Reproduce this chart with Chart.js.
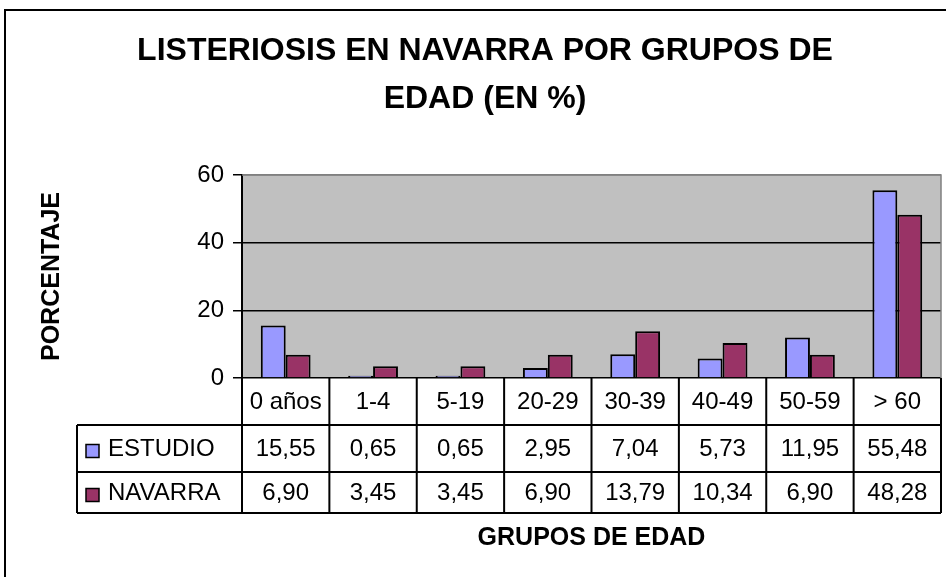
<!DOCTYPE html>
<html>
<head>
<meta charset="utf-8">
<script src="https://cdn.jsdelivr.net/npm/chart.js@4/dist/chart.umd.min.js"></script>
<style>
  html, body { margin: 0; padding: 0; background: #fff; }
</style>
</head>
<body>
<canvas id="grafico" width="946" height="577"></canvas>
<script>
// Datos por grupo de edad (porcentajes)
const gruposEdad = ['0 años', '1-4', '5-19', '20-29', '30-39', '40-49', '50-59', '> 60'];
const estudio = [15.55, 0.65, 0.65, 2.95, 7.04, 5.73, 11.95, 55.48];
const navarra = [6.90, 3.45, 3.45, 6.90, 13.79, 10.34, 6.90, 48.28];
const nombresSeries = ['ESTUDIO', 'NAVARRA'];
const coloresSeries = ['#9999FF', '#993366'];
const ticksY = [0, 20, 40, 60];

const FUENTE = "'Liberation Sans', Arial, sans-serif";

// formato con coma decimal
const fmt = v => v.toFixed(2).replace('.', ',');

// Fondo gris del area, marco exterior, tabla de datos y titulos de ejes
const tablaDatos = {
  id: 'tablaDatos',
  beforeDraw(chart) {
    const ctx = chart.ctx;
    const a = chart.chartArea;
    ctx.save();
    ctx.fillStyle = '#C0C0C0';
    ctx.fillRect(a.left, a.top, a.right - a.left, a.bottom - a.top);
    ctx.strokeStyle = '#000';
    ctx.lineWidth = 2;
    ctx.beginPath();
    ctx.moveTo(5, 600);
    ctx.lineTo(5, 10);
    ctx.lineTo(960, 10);
    ctx.stroke();
    ctx.restore();
  },
  afterDraw(chart) {
    const ctx = chart.ctx;
    const a = chart.chartArea;
    const x = chart.scales.x;
    const n = gruposEdad.length;
    const ancho = (a.right - a.left) / n;
    const izq = 77;
    const y0 = a.bottom, y1 = y0 + 47, y2 = y1 + 47, y3 = y2 + 41;

    ctx.save();
    // borde gris superior y derecho del area
    ctx.strokeStyle = '#808080';
    ctx.lineWidth = 1.5;
    ctx.beginPath();
    ctx.moveTo(a.left, a.top);
    ctx.lineTo(a.right, a.top);
    ctx.lineTo(a.right, a.bottom);
    ctx.stroke();

    // lineas de la tabla
    ctx.strokeStyle = '#000';
    ctx.lineWidth = 2;
    ctx.beginPath();
    for (let i = 0; i <= n; i++) {
      const xl = a.left + i * ancho;
      ctx.moveTo(xl, y0);
      ctx.lineTo(xl, y3);
    }
    ctx.moveTo(izq, y1); ctx.lineTo(a.right, y1);
    ctx.moveTo(izq, y2); ctx.lineTo(a.right, y2);
    ctx.moveTo(izq, y3); ctx.lineTo(a.right, y3);
    ctx.moveTo(izq, y1); ctx.lineTo(izq, y3);
    ctx.stroke();

    // textos de la tabla
    ctx.fillStyle = '#000';
    ctx.font = '24px ' + FUENTE;
    ctx.textAlign = 'center';
    ctx.textBaseline = 'middle';
    const series = [estudio, navarra];
    const filas = [[y1, y2], [y2, y3]];
    gruposEdad.forEach((g, i) => {
      const cx = x.getPixelForValue(i);
      ctx.fillText(g, cx, (y0 + y1) / 2 + 1);
      series.forEach((s, k) => {
        ctx.fillText(fmt(s[i]), cx, (filas[k][0] + filas[k][1]) / 2 + 1);
      });
    });

    // leyenda dentro de la tabla
    ctx.textAlign = 'left';
    nombresSeries.forEach((nombre, k) => {
      const cy = (filas[k][0] + filas[k][1]) / 2 + 3;
      ctx.fillStyle = coloresSeries[k];
      ctx.fillRect(86, cy - 7, 13, 13);
      ctx.lineWidth = 1.5;
      ctx.strokeStyle = '#000';
      ctx.strokeRect(86, cy - 7, 13, 13);
      ctx.fillStyle = '#000';
      ctx.fillText(nombre, 108, cy - 2);
    });

    // titulos de ejes
    ctx.font = 'bold 25px ' + FUENTE;
    ctx.textAlign = 'center';
    ctx.fillText('GRUPOS DE EDAD', (a.left + a.right) / 2, 538);
    ctx.translate(52, (a.top + a.bottom) / 2);
    ctx.rotate(-Math.PI / 2);
    ctx.fillText('PORCENTAJE', 0, 0);
    ctx.restore();
  }
};

new Chart(document.getElementById('grafico'), {
  type: 'bar',
  data: {
    labels: gruposEdad,
    datasets: [
      { label: nombresSeries[0], data: estudio, backgroundColor: coloresSeries[0] },
      { label: nombresSeries[1], data: navarra, backgroundColor: coloresSeries[1] }
    ]
  },
  options: {
    responsive: false,
    devicePixelRatio: 1,
    animation: false,
    layout: { padding: { left: 29, right: 5, top: 0, bottom: 199 } },
    datasets: {
      bar: {
        borderColor: '#000',
        borderWidth: 2,
        categoryPercentage: 0.57,
        barPercentage: 1.0
      }
    },
    plugins: {
      legend: { display: false },
      tooltip: { enabled: false },
      title: {
        display: true,
        text: ['LISTERIOSIS EN NAVARRA POR GRUPOS DE', 'EDAD (EN %)'],
        color: '#000',
        font: { family: FUENTE, size: 32, weight: 'bold', lineHeight: '48px' },
        padding: { top: 27, bottom: 52 }
      }
    },
    scales: {
      x: { display: false },
      y: {
        min: 0,
        max: 60,
        afterBuildTicks: s => { s.ticks = ticksY.map(v => ({ value: v })); },
        afterFit: s => { s.width = 213; },
        ticks: { color: '#000', font: { family: FUENTE, size: 24 }, padding: 9 },
        grid: {
          color: c => (c.tick && c.tick.value === 60 ? '#808080' : '#000'),
          lineWidth: 1.5,
          tickLength: 9,
          tickColor: '#000'
        },
        border: { display: true, color: '#000', width: 2 }
      }
    }
  },
  plugins: [tablaDatos]
});
</script>
</body>
</html>
